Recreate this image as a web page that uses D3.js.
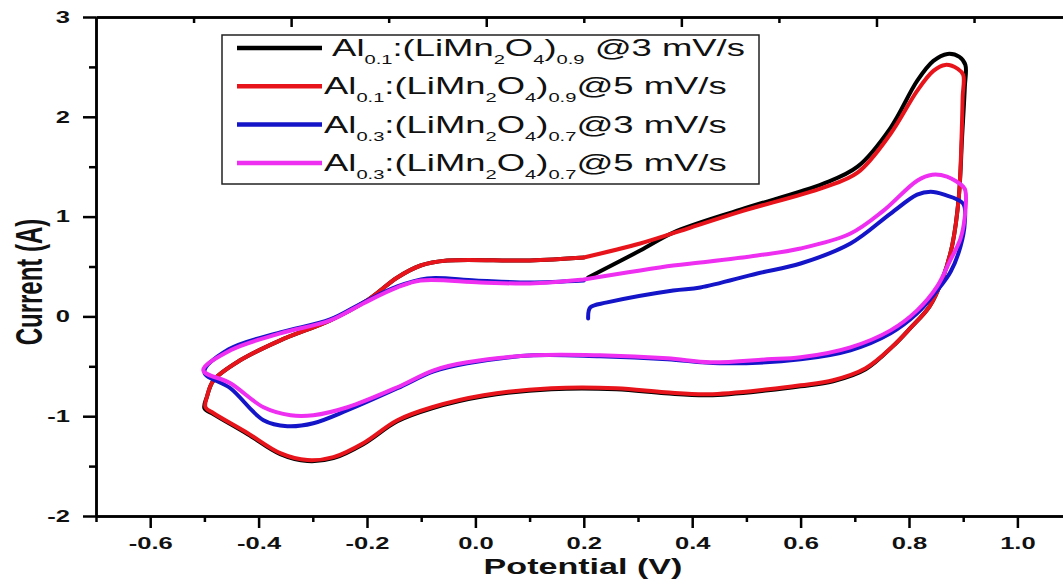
<!DOCTYPE html>
<html>
<head>
<meta charset="utf-8">
<title>CV Al LiMn2O4</title>
<script src="https://d3js.org/d3.v7.min.js"></script>
<style>
body { margin: 0; background: #fff; }
text { font-family: "Liberation Sans", Arial, sans-serif; }
.ax path, .ax line { stroke: #000; stroke-width: 2.5; }
</style>
</head>
<body>
<svg id="chart" width="1063" height="581"></svg>
<script>
// [potential V, current A]
var al01_3 = [[0.208,0.39],[0.304,0.66],[0.365,0.84],[0.489,1.07],[0.642,1.33],[0.705,1.5],[0.766,1.89],[0.815,2.36],[0.845,2.56],[0.871,2.63],[0.893,2.6],[0.904,2.52],
  [0.903,2.3],[0.898,1.8],[0.892,1.2],[0.88,0.72],[0.862,0.38],[0.838,0.1],[0.802,-0.12],[0.77,-0.3],[0.72,-0.53],[0.66,-0.65],[0.6,-0.7],[0.54,-0.74],[0.43,-0.79],[0.35,-0.77],[0.26,-0.73],[0.14,-0.73],[0.015,-0.8],[-0.08,-0.92],[-0.144,-1.05],[-0.207,-1.28],[-0.262,-1.42],[-0.31,-1.45],[-0.36,-1.38],[-0.42,-1.18],[-0.483,-0.98],[-0.5,-0.92],
  [-0.495,-0.8],[-0.483,-0.64],[-0.434,-0.44],[-0.36,-0.24],[-0.268,-0.04],[-0.2,0.16],[-0.144,0.39],[-0.101,0.51],[-0.052,0.56],[0.1,0.56],[0.2,0.59]];
var al01_5 = [[0.2,0.59],[0.304,0.73],[0.397,0.89],[0.489,1.05],[0.642,1.29],[0.705,1.44],[0.766,1.83],[0.815,2.26],[0.845,2.46],[0.867,2.52],[0.89,2.48],[0.9,2.42],
  [0.899,2.2],[0.897,1.8],[0.892,1.2],[0.88,0.72],[0.862,0.38],[0.838,0.1],[0.802,-0.12],[0.77,-0.3],[0.72,-0.52],[0.66,-0.64],[0.6,-0.69],[0.54,-0.73],[0.43,-0.78],[0.35,-0.76],[0.26,-0.72],[0.14,-0.72],[0.015,-0.79],[-0.08,-0.91],[-0.144,-1.04],[-0.207,-1.27],[-0.262,-1.41],[-0.31,-1.44],[-0.36,-1.37],[-0.42,-1.17],[-0.483,-0.97],[-0.498,-0.91],
  [-0.495,-0.8],[-0.483,-0.64],[-0.434,-0.44],[-0.36,-0.24],[-0.268,-0.04],[-0.2,0.16],[-0.144,0.39],[-0.101,0.51],[-0.052,0.56],[0.1,0.56],[0.2,0.59]];
var al03_3 = [[0.208,-0.02],[0.212,0.09],[0.243,0.14],[0.365,0.26],[0.415,0.29],[0.52,0.43],[0.6,0.53],[0.692,0.73],[0.766,1.03],[0.815,1.22],[0.84,1.25],[0.865,1.22],[0.9,1.13],
  [0.903,0.95],[0.895,0.7],[0.877,0.45],[0.852,0.26],[0.815,0.03],[0.766,-0.17],[0.692,-0.34],[0.6,-0.43],[0.45,-0.47],[0.354,-0.43],[0.23,-0.4],[0.107,-0.39],[-0.015,-0.47],[-0.077,-0.55],[-0.144,-0.72],[-0.236,-0.94],[-0.299,-1.07],[-0.347,-1.1],[-0.391,-1.04],[-0.452,-0.72],[-0.5,-0.56],
  [-0.455,-0.33],[-0.36,-0.16],[-0.268,-0.03],[-0.207,0.14],[-0.144,0.3],[-0.089,0.38],[0.0,0.36],[0.1,0.34],[0.2,0.36]];
var al03_5 = [[0.2,0.37],[0.365,0.51],[0.415,0.54],[0.52,0.61],[0.6,0.68],[0.692,0.83],[0.753,1.06],[0.815,1.36],[0.843,1.42],[0.87,1.4],[0.9,1.3],[0.904,1.26],
  [0.903,1.0],[0.895,0.78],[0.875,0.55],[0.852,0.3],[0.815,0.06],[0.766,-0.14],[0.692,-0.31],[0.6,-0.41],[0.538,-0.43],[0.434,-0.46],[0.354,-0.42],[0.23,-0.39],[0.107,-0.39],[-0.015,-0.46],[-0.077,-0.54],[-0.144,-0.71],[-0.236,-0.91],[-0.299,-0.99],[-0.341,-0.99],[-0.391,-0.91],[-0.452,-0.67],[-0.502,-0.54],
  [-0.452,-0.34],[-0.36,-0.17],[-0.268,-0.04],[-0.207,0.13],[-0.144,0.29],[-0.101,0.36],[0.009,0.34],[0.101,0.33],[0.2,0.37]];

var seriesData = [al01_3, al01_5, al03_3, al03_5];
var seriesColors = ["#000000", "#e8141b", "#1414c8", "#ee2ef0"];

// legend label pieces: [text, subscript?]
var legendLabels = [
  [[" Al",0],["0.1",1],[":(LiMn",0],["2",1],["O",0],["4",1],[")",0],["0.9",1],[" @3 mV/s",0]],
  [["Al",0],["0.1",1],[":(LiMn",0],["2",1],["O",0],["4",1],[")",0],["0.9",1],["@5 mV/s",0]],
  [["Al",0],["0.3",1],[":(LiMn",0],["2",1],["O",0],["4",1],[")",0],["0.7",1],["@3 mV/s",0]],
  [["Al",0],["0.3",1],[":(LiMn",0],["2",1],["O",0],["4",1],[")",0],["0.7",1],["@5 mV/s",0]]
];

var yMajor = [-2, -1, 0, 1, 2, 3];
var yMinor = [-1.5, -0.5, 0.5, 1.5, 2.5];
var xMajor = [-0.6, -0.4, -0.2, 0, 0.2, 0.4, 0.6, 0.8, 1.0];
var xMinor = [-0.7, -0.5, -0.3, -0.1, 0.1, 0.3, 0.5, 0.7, 0.9, 1.1];
var topLong = [-0.34, 0.02, 0.38, 0.74];
var topShort = [-0.52, -0.16, 0.2, 0.56, 0.92];

var svg = d3.select("#chart");
var SX = 1.55; // the picture is stretched sideways, so is its lettering

var x = d3.scaleLinear().domain([-0.7, 1.1]).range([96, 1071.6]);
var y = d3.scaleLinear().domain([-2, 3]).range([516, 17]);

// curves
var line = d3.line()
  .x(function (d) { return x(d[0]); })
  .y(function (d) { return y(d[1]); })
  .curve(d3.curveCatmullRom.alpha(0.5));

svg.append("g").selectAll("path").data(seriesData).enter().append("path")
  .attr("d", line)
  .attr("fill", "none")
  .attr("stroke", function (d, i) { return seriesColors[i]; })
  .attr("stroke-width", 4)
  .attr("stroke-linejoin", "round")
  .attr("stroke-linecap", "round");

// axes
function styleAx(g) { g.attr("class", "ax"); }

svg.append("g").attr("transform", "translate(96,0)")
  .call(d3.axisLeft(y).tickValues(yMinor).tickSize(7).tickSizeOuter(0).tickFormat(""))
  .call(styleAx);
svg.append("g").attr("transform", "translate(96,0)")
  .call(d3.axisLeft(y).tickValues(yMajor).tickSize(13).tickSizeOuter(0).tickPadding(13)
    .tickFormat(function (d) { return String(d); }))
  .call(styleAx)
  .call(function (g) {
    g.selectAll("text").attr("x", -26 / SX).attr("transform", "scale(" + SX + ",1)")
      .attr("font-size", 16.5).attr("font-weight", "bold").attr("fill", "#111");
  });

svg.append("g").attr("transform", "translate(1071.6,0)")
  .call(d3.axisLeft(y).tickValues(yMinor).tickSize(-6).tickSizeOuter(0).tickFormat(""))
  .call(styleAx);
svg.append("g").attr("transform", "translate(1071.6,0)")
  .call(d3.axisLeft(y).tickValues(yMajor).tickSize(-12).tickSizeOuter(0).tickFormat(""))
  .call(styleAx);

svg.append("g").attr("transform", "translate(0,516)")
  .call(d3.axisBottom(x).tickValues(xMinor).tickSize(6).tickSizeOuter(0).tickFormat(""))
  .call(styleAx);
svg.append("g").attr("transform", "translate(0,516)")
  .call(d3.axisBottom(x).tickValues(xMajor).tickSize(12).tickSizeOuter(0).tickPadding(9)
    .tickFormat(function (d) { return d.toFixed(1); }))
  .call(styleAx)
  .call(function (g) {
    g.selectAll("text").attr("transform", "scale(" + SX + ",1)")
      .attr("font-size", 16.5).attr("font-weight", "bold").attr("fill", "#111");
  });

svg.append("g").attr("transform", "translate(0,17)")
  .call(d3.axisTop(x).tickValues(topShort).tickSize(-6).tickSizeOuter(0).tickFormat(""))
  .call(styleAx);
svg.append("g").attr("transform", "translate(0,17)")
  .call(d3.axisTop(x).tickValues(topLong).tickSize(-10).tickSizeOuter(0).tickFormat(""))
  .call(styleAx);

// axis titles
svg.append("text")
  .attr("transform", "translate(42,282) scale(" + SX + ",1) rotate(-90)")
  .attr("text-anchor", "middle")
  .attr("font-size", 24).attr("font-weight", "bold").attr("fill", "#111")
  .text("Current (A)");

svg.append("text")
  .attr("transform", "translate(583,574) scale(" + SX + ",1)")
  .attr("text-anchor", "middle")
  .attr("font-size", 22).attr("font-weight", "bold").attr("fill", "#111")
  .text("Potential (V)");

// legend
var leg = svg.append("g");
leg.append("rect")
  .attr("x", 222).attr("y", 35).attr("width", 537).attr("height", 149)
  .attr("fill", "#fff").attr("stroke", "#222").attr("stroke-width", 1.5);

legendLabels.forEach(function (parts, i) {
  var ry = 48 + i * 38.3;
  leg.append("line")
    .attr("x1", 237).attr("x2", 322).attr("y1", ry).attr("y2", ry)
    .attr("stroke", seriesColors[i]).attr("stroke-width", 4.5);
  var t = leg.append("text")
    .attr("transform", "translate(324," + (ry + 8) + ") scale(" + SX + ",1)")
    .attr("font-size", 23.5).attr("fill", "#111")
    .style("white-space", "pre");
  var down = false;
  parts.forEach(function (p) {
    var ts = t.append("tspan").text(p[0]);
    if (p[1]) {
      ts.attr("font-size", 13).attr("dy", down ? 0 : 8);
      down = true;
    } else {
      ts.attr("dy", down ? -8 : 0);
      down = false;
    }
  });
});
</script>
</body>
</html>
